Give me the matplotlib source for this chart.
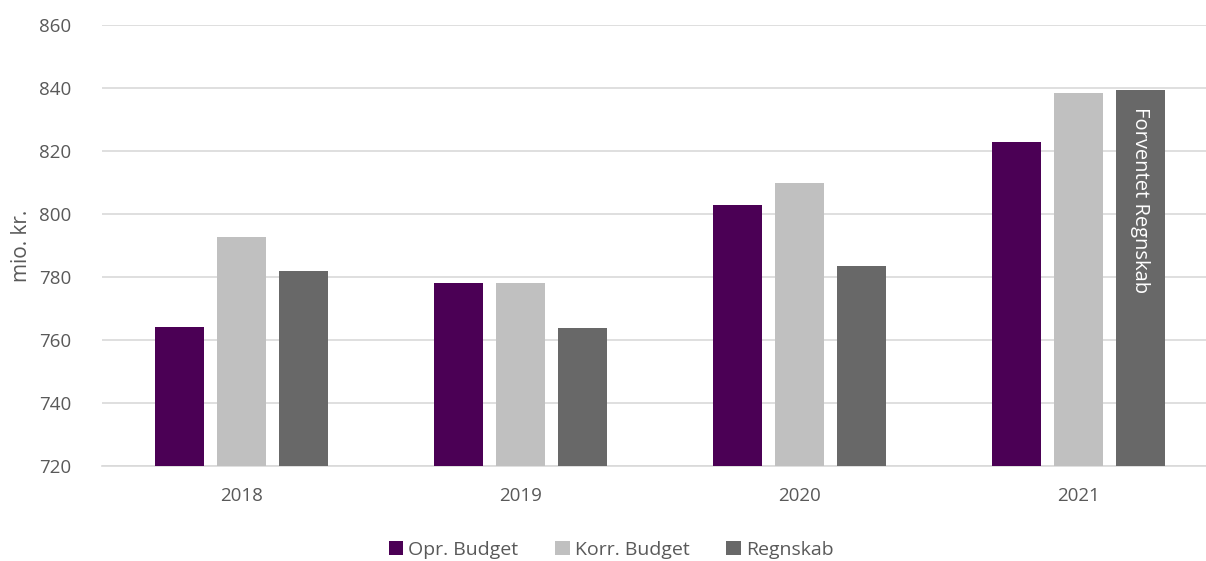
import numpy as np
import matplotlib.pyplot as plt

plt.rcParams['font.family'] = ['Open Sans', 'DejaVu Sans']

aar = ['2018', '2019', '2020', '2021']
opr_budget = [764.1, 778.2, 802.9, 822.9]
korr_budget = [792.7, 778.0, 809.8, 838.5]
regnskab = [781.9, 763.8, 783.4, 839.4]

serier = ['Opr. Budget', 'Korr. Budget', 'Regnskab']
farver = ['#4B0055', '#C0C0C0', '#686868']
tekst_farve = '#595959'

fig = plt.figure(figsize=(12.06, 5.61), dpi=100)
# aksen går lidt ud over højre kant, som i originalen
ax = fig.add_axes([102/1206, 95/561, 1116/1206, 441/561])

x = np.arange(len(aar))
bredde = 0.176
afstand = 0.222
for i, (vaerdier, navn, farve) in enumerate(zip([opr_budget, korr_budget, regnskab], serier, farver)):
    ax.bar(x + (i - 1) * afstand, np.array(vaerdier) - 720, bredde, bottom=720,
           color=farve, label=navn, zorder=3)

# tekst i sidste søjle
ax.text(x[-1] + afstand, regnskab[-1] - 5.5, 'Forventet Regnskab', rotation=-90,
        ha='center', va='top', color='white', fontsize=14.5, zorder=4)

ax.set_xlim(-0.5, 3.5)
ax.set_ylim(720, 860)
ax.set_yticks(np.arange(720, 861, 20))
ax.set_xticks(x)
ax.set_xticklabels(aar)
ax.grid(axis='y', color='#D9D9D9', linewidth=1.2, zorder=0)
for s in ['top', 'right', 'left']:
    ax.spines[s].set_visible(False)
ax.spines['bottom'].set_color('#D9D9D9')
ax.spines['bottom'].set_linewidth(1.2)
ax.tick_params(axis='both', length=0, labelsize=13.5, labelcolor=tekst_farve)
ax.tick_params(axis='x', pad=15)
ax.tick_params(axis='y', pad=22)
ax.set_ylabel('mio. kr.', fontsize=15, color=tekst_farve, labelpad=5)

fig.legend(loc='center', bbox_to_anchor=(611/1206, 1 - 550/561), ncol=3, frameon=False,
           fontsize=14, labelcolor=tekst_farve, handlelength=0.75, handleheight=0.75,
           handletextpad=0.25, columnspacing=1.9)

fig.savefig('out.png', dpi=100)
